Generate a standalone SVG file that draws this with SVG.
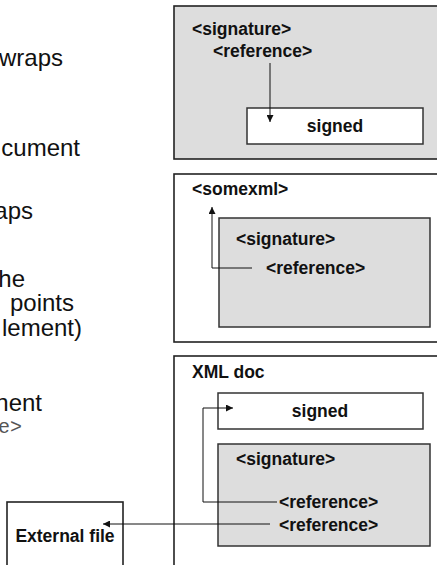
<svg xmlns="http://www.w3.org/2000/svg" width="437" height="565" viewBox="0 0 437 565">
<style>
.outer{fill:#fff;stroke:#222;stroke-width:1.6}
.outerg{fill:#dddddd;stroke:#222;stroke-width:1.6}
.inw{fill:#fff;stroke:#333;stroke-width:1.5}
.ing{fill:#dddddd;stroke:#333;stroke-width:1.5}
.lbl{font-family:"Liberation Sans",Arial,sans-serif;font-weight:bold;font-size:17.5px;fill:#111}
.side{font-family:"Liberation Sans",Arial,sans-serif;font-size:24px;fill:#111;text-anchor:end}
.mono{font-family:"Liberation Mono","Courier New",monospace;font-size:20px;fill:#555;text-anchor:end}
.con{fill:none;stroke:#111;stroke-width:1}
</style>
<defs>
<marker id="ah" viewBox="0 0 10 10" refX="10" refY="5" markerWidth="7" markerHeight="7" markerUnits="userSpaceOnUse" orient="auto">
<path d="M0,0 L10,5 L0,10 z" fill="#111"/>
</marker>
</defs>
<g id="side-text">
<text class="side" x="63" y="66">wraps</text>
<text class="side" x="80" y="156">cument</text>
<text class="side" x="33" y="219">aps</text>
<text class="side" x="25" y="287">he</text>
<text class="side" x="74" y="311">points</text>
<text class="side" x="82" y="336">lement)</text>
<text class="side" x="42" y="411">nent</text>
<text class="mono" x="22" y="433">e&gt;</text>
</g>
<g id="enveloping">
<rect class="outerg" x="174" y="6" width="280" height="153"/>
<text class="lbl" x="192" y="35">&lt;signature&gt;</text>
<text class="lbl" x="213" y="57">&lt;reference&gt;</text>
<rect class="inw" x="247" y="108" width="176" height="36"/>
<text class="lbl" x="335" y="132" text-anchor="middle">signed</text>
</g>
<g id="enveloped">
<rect class="outer" x="174" y="174" width="280" height="168"/>
<text class="lbl" x="192" y="195">&lt;somexml&gt;</text>
<rect class="ing" x="219" y="218" width="211" height="109"/>
<text class="lbl" x="236" y="245">&lt;signature&gt;</text>
<text class="lbl" x="266" y="274">&lt;reference&gt;</text>
</g>
<g id="detached">
<rect class="outer" x="174" y="356" width="280" height="220"/>
<text class="lbl" x="192" y="378">XML doc</text>
<rect class="inw" x="218" y="393" width="205" height="36"/>
<text class="lbl" x="320" y="417" text-anchor="middle">signed</text>
<rect class="ing" x="218" y="444" width="212" height="102"/>
<text class="lbl" x="236" y="465">&lt;signature&gt;</text>
<text class="lbl" x="279" y="508">&lt;reference&gt;</text>
<text class="lbl" x="279" y="531">&lt;reference&gt;</text>
</g>
<g id="external-file">
<rect class="outer" x="7" y="502" width="116" height="80"/>
<text class="lbl" x="65" y="542" text-anchor="middle">External file</text>
</g>
<g id="connectors">
<path class="con" d="M270,63 V122" marker-end="url(#ah)"/>
<path class="con" d="M252,268 H212 V207" marker-end="url(#ah)"/>
<path class="con" d="M277,502 H203 V408 H233" marker-end="url(#ah)"/>
<path class="con" d="M270,524 H103" marker-end="url(#ah)"/>
</g>
</svg>
